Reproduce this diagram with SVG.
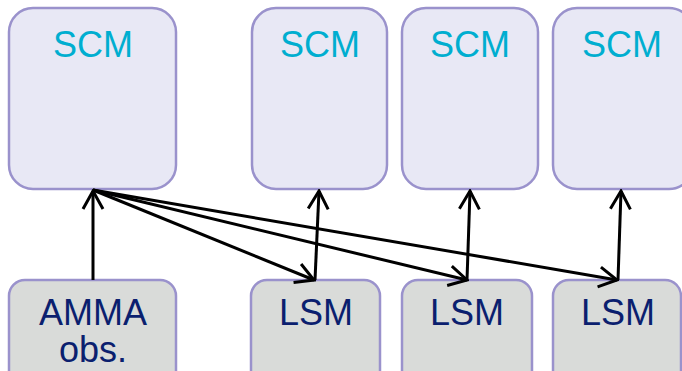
<svg xmlns="http://www.w3.org/2000/svg" width="682" height="371" viewBox="0 0 682 371">
<style>
.scm{fill:#e8e8f5;stroke:#9a92cc;stroke-width:2.5}
.lsm{fill:#d9dbd9;stroke:#9a92cc;stroke-width:2.5}
.t1{font-family:"Liberation Sans",Arial,sans-serif;font-size:36px;fill:#00aed0;text-anchor:middle}
.t2{font-family:"Liberation Sans",Arial,sans-serif;font-size:36px;fill:#0b1f6f;text-anchor:middle}
.c{stroke:#000;stroke-width:3;fill:none;marker-end:url(#ah)}
</style>
<defs>
<marker id="ah" markerUnits="userSpaceOnUse" viewBox="-20 -12 22 24" refX="0" refY="0" markerWidth="22" markerHeight="24" orient="auto">
<polyline points="-18,-10 0,0 -18,10" fill="none" stroke="#000" stroke-width="3"/>
</marker>
</defs>
<g id="scm1"><rect class="scm" x="9" y="8" width="167" height="181" rx="24"/><text class="t1" x="93" y="57">SCM</text></g>
<g id="scm2"><rect class="scm" x="252" y="8" width="135" height="181" rx="24"/><text class="t1" x="320" y="57">SCM</text></g>
<g id="scm3"><rect class="scm" x="402" y="8" width="136" height="181" rx="24"/><text class="t1" x="470" y="57">SCM</text></g>
<g id="scm4"><rect class="scm" x="553" y="8" width="140" height="181" rx="24"/><text class="t1" x="622" y="57">SCM</text></g>
<g id="amma"><rect class="lsm" x="9" y="280" width="167" height="110" rx="16"/><text class="t2" x="93" y="325">AMMA</text><text class="t2" x="93" y="362">obs.</text></g>
<g id="lsm1"><rect class="lsm" x="251" y="280" width="129" height="110" rx="16"/><text class="t2" x="316" y="325">LSM</text></g>
<g id="lsm2"><rect class="lsm" x="402" y="280" width="130" height="110" rx="16"/><text class="t2" x="467" y="325">LSM</text></g>
<g id="lsm3"><rect class="lsm" x="553" y="280" width="128" height="110" rx="16"/><text class="t2" x="618" y="325">LSM</text></g>
<g id="connectors">
<line class="c" x1="93" y1="280" x2="93" y2="191"/>
<line class="c" x1="93" y1="190" x2="314" y2="280"/>
<line class="c" x1="93" y1="190" x2="467" y2="280"/>
<line class="c" x1="93" y1="190" x2="617" y2="280"/>
<line class="c" x1="315" y1="280" x2="319" y2="191"/>
<line class="c" x1="467" y1="280" x2="470" y2="191"/>
<line class="c" x1="618" y1="280" x2="621" y2="191"/>
</g>
</svg>
